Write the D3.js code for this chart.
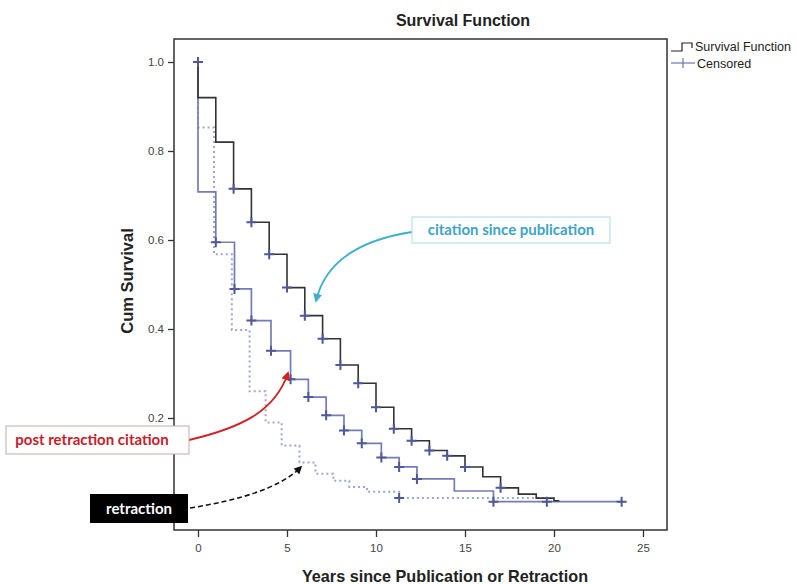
<!DOCTYPE html>
<html>
<head>
<meta charset="utf-8">
<script src="https://cdn.jsdelivr.net/npm/d3@7/dist/d3.min.js"></script>
<style>
  html, body { margin: 0; padding: 0; background: #fff; }
  svg { display: block; }
</style>
</head>
<body>
<svg id="chart" width="796" height="584"></svg>
<script>
// ---- data ----
const xTicks = [0, 5, 10, 15, 20, 25];
const yTicks = [0.2, 0.4, 0.6, 0.8, 1.0];

// citation since publication (solid dark)
const pubTimes = [0, 0, 1, 2, 3, 4, 5, 6, 7, 8, 9, 10, 11, 12, 13, 14, 15, 16, 17, 18, 19, 20];
const pubSurv  = [1.0, 0.92, 0.82, 0.715, 0.64, 0.568, 0.493, 0.43, 0.378, 0.319, 0.278, 0.224, 0.176, 0.149, 0.127, 0.115, 0.09, 0.068, 0.043, 0.029, 0.02, 0.014];
const pubEnd = 20.3;
const pubCensorTimes = [2, 3, 4, 5, 6, 7, 8, 9, 10, 11, 12, 13, 14, 15, 17];

// post retraction citation (solid blue)
const postTimes = [0, 0, 1, 2.05, 3, 4.1, 5.2, 6.2, 7.2, 8.2, 9.2, 10.3, 11.3, 12.3, 14.4, 16.6];
const postSurv  = [1.0, 0.708, 0.595, 0.49, 0.419, 0.351, 0.287, 0.247, 0.206, 0.172, 0.143, 0.111, 0.09, 0.063, 0.036, 0.012];
const postEnd = 23.8;
const postCensorTimes = [1, 2.05, 3, 4.1, 5.2, 6.2, 7.2, 8.2, 9.2, 10.3, 11.3, 12.3, 16.6, 19.6, 23.8];

// retraction (dotted)
const retTimes = [0, 0, 0.9, 1.9, 2.9, 3.8, 4.7, 5.7, 6.6, 7.6, 8.5, 9.5, 11.3];
const retSurv  = [1.0, 0.853, 0.568, 0.398, 0.26, 0.19, 0.138, 0.1, 0.075, 0.059, 0.045, 0.034, 0.02];
const retEnd = 19.6;
const retCensorTimes = [11.3];

// ---- scales ----
const svg = d3.select("#chart");
const x = d3.scaleLinear().domain([0, 25]).range([198, 643]);
const y = d3.scaleLinear().domain([0, 1]).range([507, 62]);

const frame = { left: 174, top: 39, right: 667, bottom: 530 };
const axFont = "Liberation Sans, Arial, sans-serif";

// frame
svg.append("rect")
  .attr("x", frame.left).attr("y", frame.top)
  .attr("width", frame.right - frame.left).attr("height", frame.bottom - frame.top)
  .attr("fill", "none").attr("stroke", "#333").attr("stroke-width", 1.5);

// axes
const yAxis = d3.axisLeft(y).tickValues(yTicks).tickFormat(d3.format(".1f")).tickSize(6).tickSizeOuter(0);
const gy = svg.append("g").attr("transform", `translate(${frame.left},0)`).call(yAxis);
gy.select(".domain").remove();
gy.selectAll("line").attr("stroke", "#333").attr("stroke-width", 1.3);
gy.selectAll("text").attr("font-family", axFont).attr("font-size", 11.5).attr("fill", "#444").attr("dx", -1);

const xAxis = d3.axisBottom(x).tickValues(xTicks).tickFormat(d3.format("d")).tickSize(7).tickSizeOuter(0);
const gx = svg.append("g").attr("transform", `translate(0,${frame.bottom})`).call(xAxis);
gx.select(".domain").remove();
gx.selectAll("line").attr("stroke", "#333").attr("stroke-width", 1.3);
gx.selectAll("text").attr("font-family", axFont).attr("font-size", 11.5).attr("fill", "#444").attr("dy", "1.05em");

// titles
svg.append("text").attr("x", 463).attr("y", 26).attr("text-anchor", "middle")
  .attr("font-family", axFont).attr("font-size", 16).attr("font-weight", "bold").attr("fill", "#222")
  .text("Survival Function");
svg.append("text").attr("transform", "translate(133,281) rotate(-90)").attr("text-anchor", "middle")
  .attr("font-family", axFont).attr("font-size", 16.5).attr("font-weight", "bold").attr("fill", "#222")
  .text("Cum Survival");
svg.append("text").attr("x", 445).attr("y", 582).attr("text-anchor", "middle")
  .attr("font-family", axFont).attr("font-size", 16.2).attr("font-weight", "bold").attr("fill", "#222")
  .text("Years since Publication or Retraction");

// curves
function stepPoints(times, surv, end) {
  const pts = times.map((t, i) => [t, surv[i]]);
  pts.push([end, surv[surv.length - 1]]);
  return pts;
}
const line = d3.line().x(d => x(d[0])).y(d => y(d[1])).curve(d3.curveStepAfter);

svg.append("path").datum(stepPoints(retTimes, retSurv, retEnd))
  .attr("d", line).attr("fill", "none").attr("stroke", "#9ea6d0").attr("stroke-width", 2).attr("stroke-dasharray", "2,3");
svg.append("path").datum(stepPoints(postTimes, postSurv, postEnd))
  .attr("d", line).attr("fill", "none").attr("stroke", "#737cba").attr("stroke-width", 1.7);
svg.append("path").datum(stepPoints(pubTimes, pubSurv, pubEnd))
  .attr("d", line).attr("fill", "none").attr("stroke", "#333").attr("stroke-width", 1.6);

// censor markers
function survAt(times, surv, t) {
  let v = surv[0];
  for (let i = 0; i < times.length; i++) if (times[i] <= t + 1e-9) v = surv[i];
  return v;
}
const plus = "M-5,0H5M0,-5V5";
function markers(ctimes, times, surv) {
  svg.append("g").selectAll("path").data(ctimes).join("path")
    .attr("d", plus)
    .attr("transform", t => `translate(${x(t)},${y(survAt(times, surv, t))})`)
    .attr("stroke", "#4f5898").attr("stroke-width", 2).attr("fill", "none");
}
markers(pubCensorTimes, pubTimes, pubSurv);
markers(postCensorTimes, postTimes, postSurv);
markers(retCensorTimes, retTimes, retSurv);
// start point marker
svg.append("path").attr("d", plus).attr("transform", `translate(${x(0)},${y(1)})`)
  .attr("stroke", "#4f5898").attr("stroke-width", 2);

// legend
const lg = svg.append("g");
lg.append("path").attr("d", "M671,51H682V43H692V48").attr("fill", "none").attr("stroke", "#222").attr("stroke-width", 1.2);
lg.append("text").attr("x", 695).attr("y", 51).attr("font-family", axFont).attr("font-size", 12.5).attr("fill", "#222").text("Survival Function");
lg.append("path").attr("d", "M671,63H695").attr("stroke", "#6b74b8").attr("stroke-width", 1.2);
lg.append("path").attr("d", "M683,58V68").attr("stroke", "#6b74b8").attr("stroke-width", 1.2);
lg.append("text").attr("x", 697).attr("y", 68).attr("font-family", axFont).attr("font-size", 12.5).attr("fill", "#222").text("Censored");

// arrowhead markers
const defs = svg.append("defs");
function arrow(id, color) {
  defs.append("marker").attr("id", id).attr("viewBox", "0 0 10 10").attr("refX", 8).attr("refY", 5)
    .attr("markerWidth", 5).attr("markerHeight", 5).attr("orient", "auto")
    .append("path").attr("d", "M0,0L10,5L0,10z").attr("fill", color);
}
arrow("arrTeal", "#3eb0cf");
arrow("arrRed", "#d42020");
arrow("arrBlack", "#111");

const annFont = "Lato, 'Open Sans', sans-serif";

// citation since publication
svg.append("path").attr("d", "M412,232 C360,240 325,262 316,301")
  .attr("fill", "none").attr("stroke", "#3eb0cf").attr("stroke-width", 1.8).attr("marker-end", "url(#arrTeal)");
svg.append("rect").attr("x", 412).attr("y", 217).attr("width", 198).attr("height", 26)
  .attr("fill", "#fff").attr("stroke", "#a9dbe7").attr("stroke-width", 1);
svg.append("text").attr("x", 511).attr("y", 235).attr("text-anchor", "middle")
  .attr("font-family", annFont).attr("font-size", 15).attr("font-weight", "bold").attr("fill", "#3ea3c9")
  .text("citation since publication");

// post retraction citation
svg.append("path").attr("d", "M189,440 C240,428 275,412 288,373")
  .attr("fill", "none").attr("stroke", "#d42020").attr("stroke-width", 1.8).attr("marker-end", "url(#arrRed)");
svg.append("rect").attr("x", 6).attr("y", 426).attr("width", 183).attr("height", 28)
  .attr("fill", "#fff").attr("stroke", "#c9a7a7").attr("stroke-width", 1);
svg.append("text").attr("x", 92).attr("y", 445).attr("text-anchor", "middle")
  .attr("font-family", annFont).attr("font-size", 15).attr("font-weight", "bold").attr("fill", "#c8202a")
  .text("post retraction citation");

// retraction
svg.append("path").attr("d", "M190,508 C240,500 280,488 301,467")
  .attr("fill", "none").attr("stroke", "#111").attr("stroke-width", 1.6).attr("stroke-dasharray", "5,3").attr("marker-end", "url(#arrBlack)");
svg.append("rect").attr("x", 90).attr("y", 494).attr("width", 98).attr("height", 29).attr("fill", "#000");
svg.append("text").attr("x", 139).attr("y", 514).attr("text-anchor", "middle")
  .attr("font-family", annFont).attr("font-size", 15).attr("font-weight", "bold").attr("fill", "#fff")
  .text("retraction");
</script>
</body>
</html>
